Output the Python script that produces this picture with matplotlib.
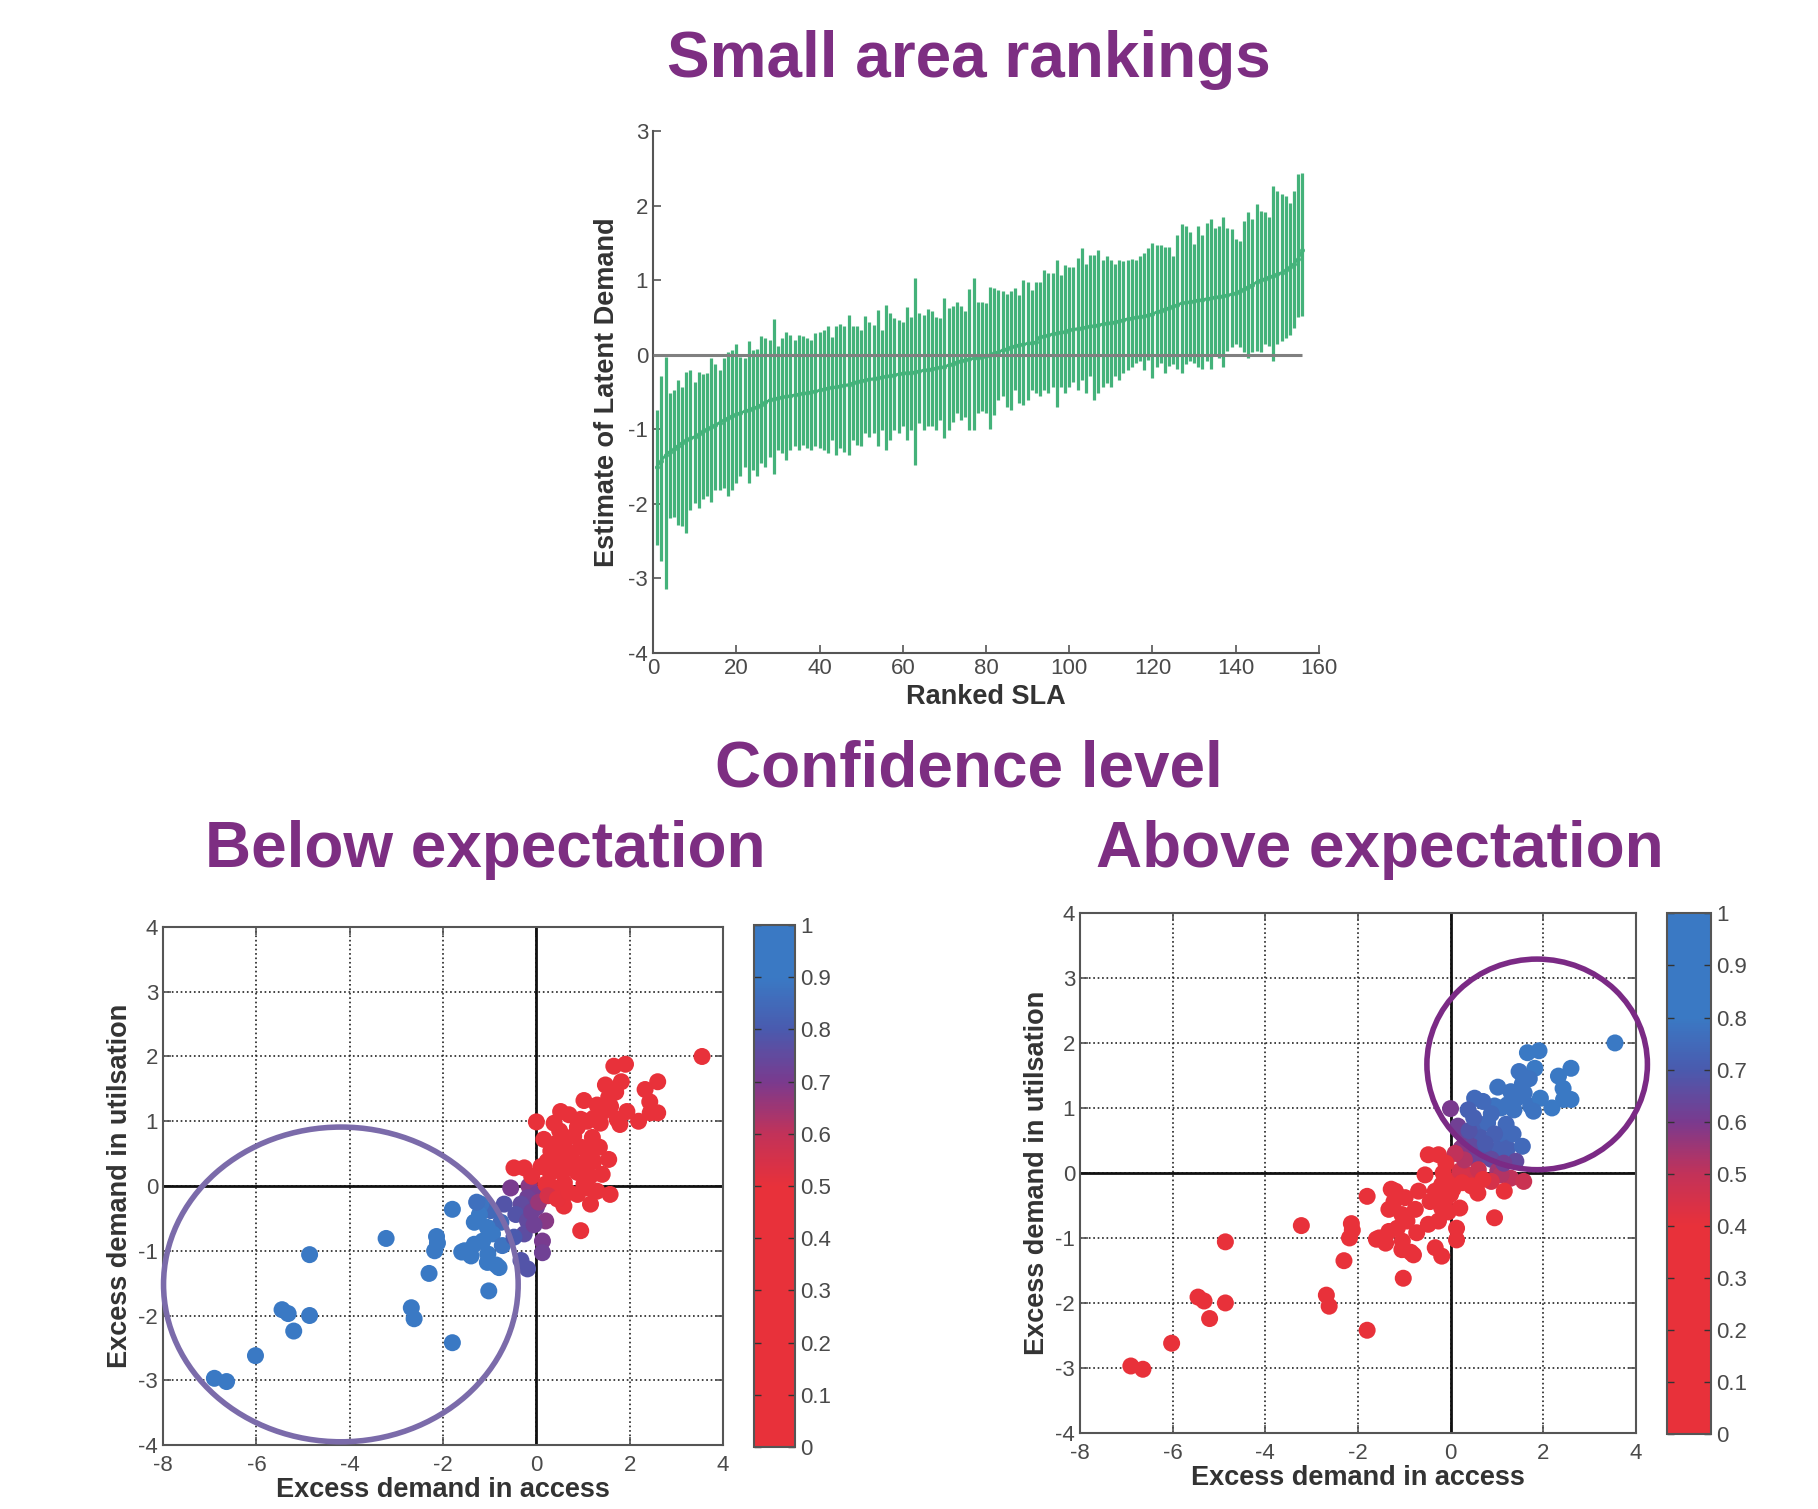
import numpy as np
import matplotlib
matplotlib.use("Agg")
import matplotlib.pyplot as plt
from matplotlib.colors import LinearSegmentedColormap
from matplotlib.patches import Ellipse

plt.rcParams['font.family'] = ['Liberation Sans', 'DejaVu Sans']
plt.rcParams['axes.unicode_minus'] = False

# ---- Small area rankings (156 ranked SLAs) ----
sla_est = [
    -1.50, -1.42, -1.35, -1.30, -1.27, -1.22, -1.18, -1.15, -1.12, -1.10,
    -1.07, -1.03, -1.00, -0.97, -0.94, -0.91, -0.88, -0.85, -0.82, -0.80,
    -0.78, -0.76, -0.74, -0.72, -0.70, -0.67, -0.64, -0.61, -0.59, -0.58,
    -0.57, -0.56, -0.55, -0.54, -0.53, -0.52, -0.51, -0.50, -0.49, -0.48,
    -0.46, -0.45, -0.44, -0.43, -0.42, -0.41, -0.40, -0.38, -0.36, -0.35,
    -0.34, -0.33, -0.32, -0.31, -0.30, -0.29, -0.28, -0.27, -0.26, -0.25,
    -0.24, -0.24, -0.23, -0.22, -0.21, -0.20, -0.19, -0.18, -0.17, -0.16,
    -0.14, -0.12, -0.10, -0.08, -0.07, -0.06, -0.05, -0.04, -0.03, -0.02,
    0.00, 0.02, 0.04, 0.06, 0.08, 0.10, 0.12, 0.13, 0.14, 0.15,
    0.16, 0.17, 0.24, 0.25, 0.26, 0.28, 0.29, 0.30, 0.31, 0.33,
    0.34, 0.35, 0.36, 0.37, 0.38, 0.39, 0.40, 0.41, 0.42, 0.43,
    0.44, 0.45, 0.47, 0.48, 0.49, 0.50, 0.51, 0.52, 0.53, 0.55,
    0.57, 0.59, 0.61, 0.63, 0.65, 0.67, 0.69, 0.70, 0.71, 0.72,
    0.73, 0.74, 0.75, 0.76, 0.77, 0.78, 0.79, 0.80, 0.81, 0.83,
    0.85, 0.88, 0.91, 0.94, 0.97, 1.00, 1.02, 1.04, 1.06, 1.08,
    1.10, 1.13, 1.17, 1.22, 1.28, 1.40]

sla_upper = [
    -0.74, -0.29, -0.03, -0.51, -0.47, -0.34, -0.43, -0.23, -0.21, -0.37,
    -0.23, -0.26, -0.25, -0.05, -0.12, -0.20, -0.05, 0.04, 0.06, 0.14,
    -0.03, -0.05, 0.19, 0.06, 0.08, 0.25, 0.22, 0.20, 0.48, 0.11,
    0.22, 0.31, 0.27, 0.20, 0.27, 0.25, 0.22, 0.20, 0.29, 0.31,
    0.33, 0.39, 0.24, 0.39, 0.41, 0.38, 0.53, 0.38, 0.38, 0.33,
    0.52, 0.44, 0.40, 0.60, 0.33, 0.67, 0.56, 0.49, 0.47, 0.44,
    0.64, 0.51, 1.03, 0.56, 0.53, 0.61, 0.58, 0.51, 0.49, 0.76,
    0.62, 0.65, 0.71, 0.65, 0.58, 0.88, 1.03, 0.70, 0.71, 0.69,
    0.91, 0.89, 0.87, 0.85, 0.82, 0.85, 0.89, 0.80, 1.00, 0.98,
    0.87, 0.98, 0.98, 1.13, 1.09, 1.09, 1.27, 1.07, 1.20, 1.18,
    1.18, 1.29, 1.43, 1.22, 1.34, 1.34, 1.41, 1.27, 1.32, 1.27,
    1.22, 1.27, 1.25, 1.27, 1.28, 1.27, 1.32, 1.36, 1.43, 1.50,
    1.47, 1.47, 1.45, 1.44, 1.32, 1.61, 1.75, 1.73, 1.64, 1.48,
    1.73, 1.61, 1.77, 1.82, 1.70, 1.73, 1.85, 1.70, 1.68, 1.55,
    1.53, 1.79, 1.91, 1.82, 2.02, 1.93, 1.91, 1.84, 2.26, 2.20,
    2.15, 2.13, 2.04, 2.20, 2.42, 2.44]

sla_lower = [
    -2.55, -2.77, -3.14, -2.19, -2.18, -2.28, -2.30, -2.39, -2.08, -1.99,
    -2.06, -1.93, -1.89, -1.98, -1.81, -1.81, -1.79, -1.90, -1.81, -1.72,
    -1.63, -1.50, -1.72, -1.54, -1.63, -1.45, -1.50, -1.37, -1.60, -1.28,
    -1.32, -1.41, -1.28, -1.23, -1.28, -1.21, -1.25, -1.28, -1.23, -1.25,
    -1.28, -1.32, -1.14, -1.34, -1.25, -1.30, -1.34, -1.14, -1.21, -1.23,
    -1.05, -1.10, -1.05, -1.23, -1.01, -1.28, -1.14, -1.01, -1.05, -0.96,
    -1.14, -1.01, -1.48, -0.92, -1.01, -0.96, -0.96, -1.01, -0.87, -1.12,
    -1.01, -0.90, -0.78, -0.87, -0.83, -1.01, -1.01, -0.78, -0.76, -0.78,
    -0.99, -0.81, -0.61, -0.56, -0.70, -0.74, -0.47, -0.65, -0.67, -0.61,
    -0.47, -0.52, -0.56, -0.47, -0.52, -0.43, -0.70, -0.43, -0.52, -0.43,
    -0.36, -0.47, -0.34, -0.52, -0.29, -0.61, -0.52, -0.43, -0.38, -0.43,
    -0.29, -0.34, -0.25, -0.20, -0.16, -0.11, -0.09, -0.20, -0.07, -0.31,
    -0.16, -0.11, -0.25, -0.15, -0.13, -0.19, -0.24, -0.13, -0.08, -0.11,
    -0.17, -0.19, -0.08, -0.19, -0.01, -0.04, -0.17, 0.05, 0.10, 0.14,
    0.10, 0.03, -0.04, 0.03, 0.05, 0.03, 0.14, 0.12, -0.08, 0.14,
    0.19, 0.23, 0.27, 0.36, 0.50, 0.52]

# ---- Excess demand per SLA, with confidence of being below / above expectation ----
access = [
    -6.90, -6.64, -6.02, -5.45, -5.32, -5.20, -4.86, -4.86, -3.22, -2.30,
    -2.18, -2.14, -2.68, -2.62, -1.80, -1.80, -1.02, -2.12, -0.76, -0.98,
    -1.19, -1.22, -1.33, -1.05, -0.94, -1.15, -1.33, -1.54, -1.40, -1.04,
    -0.73, -1.05, -0.80, -1.28, -1.60, -0.86, -0.16, 0.00, -0.19, 0.00,
    -0.33, -0.55, -0.69, -0.44, -0.19, 0.20, 0.13, 0.13, -0.19, -0.33,
    -0.26, -0.48, -0.10, -0.05, 0.05, 1.91, 1.66, 1.82, 1.48, 1.02,
    1.55, 1.59, 1.43, 1.23, 1.09, 0.95, 0.88, 1.37, 1.73, 1.94,
    1.79, 2.19, 2.33, 2.60, 2.43, 2.44, 2.60, 0.52, 0.38, 0.00,
    0.16, 0.59, 0.80, 0.66, 0.31, 0.45, 0.23, 1.09, 1.23, 1.55,
    1.02, 1.41, -0.26, -0.48, 0.73, 0.88, 0.52, 1.02, 1.30, 1.09,
    0.88, 1.58, 1.16, 0.95, 0.59, 0.38, 0.20, 3.55, 0.70, 1.20,
    0.40, 0.95, 1.35, 0.30, 0.60, 1.70, 1.30, 0.10, 0.75, 1.15,
    0.50, -0.10, 0.25, 0.45, 0.70]

utilisation = [
    -2.97, -3.02, -2.62, -1.91, -1.97, -2.24, -1.06, -2.00, -0.81, -1.35,
    -1.00, -0.78, -1.88, -2.05, -2.42, -0.36, -1.62, -0.88, -0.56, -0.38,
    -0.28, -0.44, -0.56, -0.64, -0.74, -0.85, -0.90, -1.00, -1.08, -1.05,
    -0.92, -1.18, -1.26, -0.25, -1.02, -1.22, 0.00, -0.13, -0.18, -0.33,
    -0.28, -0.03, -0.28, -0.44, -0.54, -0.54, -0.85, -1.03, -1.28, -1.15,
    -0.74, -0.79, -0.40, -0.60, -0.25, 1.88, 1.85, 1.61, 1.56, 1.32,
    1.37, 1.23, 1.15, 1.05, 1.00, 1.03, 0.91, 0.97, 1.03, 1.15,
    0.95, 1.00, 1.49, 1.61, 1.30, 1.13, 1.13, 1.15, 0.97, 0.99,
    0.72, 0.69, 0.77, 0.54, 0.54, 0.41, 0.38, 0.54, 0.38, 0.41,
    0.36, 0.18, 0.28, 0.28, 0.28, 0.21, 0.23, 0.03, -0.08, -0.03,
    -0.13, -0.13, -0.28, -0.69, -0.31, -0.03, 0.03, 2.00, 1.10, 0.75,
    0.65, 0.60, 0.60, 0.20, 0.05, 1.45, 1.25, 0.30, 0.45, 0.15,
    0.85, 0.15, -0.15, -0.20, -0.10]

conf_below = [
    0.97, 0.97, 0.97, 0.97, 0.97, 0.97, 0.95, 0.97, 0.93, 0.95,
    0.95, 0.93, 0.96, 0.96, 0.96, 0.90, 0.95, 0.94, 0.85, 0.85,
    0.88, 0.90, 0.90, 0.90, 0.90, 0.92, 0.92, 0.93, 0.93, 0.92,
    0.88, 0.93, 0.92, 0.87, 0.93, 0.92, 0.68, 0.70, 0.72, 0.72,
    0.75, 0.70, 0.78, 0.78, 0.75, 0.68, 0.70, 0.72, 0.78, 0.78,
    0.76, 0.80, 0.72, 0.72, 0.66, 0.10, 0.10, 0.12, 0.12, 0.15,
    0.12, 0.15, 0.15, 0.15, 0.15, 0.15, 0.18, 0.15, 0.15, 0.12,
    0.15, 0.12, 0.10, 0.10, 0.10, 0.12, 0.10, 0.18, 0.20, 0.25,
    0.25, 0.20, 0.18, 0.20, 0.25, 0.25, 0.28, 0.18, 0.20, 0.18,
    0.20, 0.22, 0.35, 0.35, 0.22, 0.22, 0.25, 0.28, 0.30, 0.30,
    0.32, 0.30, 0.35, 0.40, 0.45, 0.40, 0.45, 0.05, 0.18, 0.18,
    0.22, 0.20, 0.18, 0.30, 0.35, 0.12, 0.15, 0.32, 0.22, 0.25,
    0.20, 0.50, 0.55, 0.50, 0.40]

conf_above = [
    0.05, 0.05, 0.05, 0.05, 0.05, 0.05, 0.08, 0.05, 0.10, 0.06,
    0.07, 0.08, 0.05, 0.05, 0.05, 0.12, 0.06, 0.07, 0.15, 0.15,
    0.12, 0.12, 0.10, 0.10, 0.10, 0.08, 0.08, 0.08, 0.08, 0.08,
    0.10, 0.08, 0.08, 0.12, 0.08, 0.08, 0.30, 0.30, 0.28, 0.25,
    0.25, 0.28, 0.20, 0.20, 0.20, 0.25, 0.20, 0.18, 0.12, 0.12,
    0.18, 0.15, 0.25, 0.22, 0.30, 0.80, 0.80, 0.80, 0.78, 0.78,
    0.78, 0.78, 0.78, 0.78, 0.78, 0.78, 0.75, 0.78, 0.78, 0.80,
    0.78, 0.80, 0.80, 0.80, 0.80, 0.80, 0.80, 0.75, 0.72, 0.60,
    0.62, 0.72, 0.75, 0.70, 0.62, 0.65, 0.58, 0.75, 0.72, 0.75,
    0.72, 0.65, 0.35, 0.30, 0.68, 0.65, 0.62, 0.55, 0.50, 0.52,
    0.45, 0.48, 0.40, 0.30, 0.35, 0.45, 0.45, 0.82, 0.75, 0.75,
    0.68, 0.72, 0.75, 0.52, 0.48, 0.78, 0.78, 0.50, 0.70, 0.62,
    0.72, 0.30, 0.30, 0.32, 0.40]

purple = '#7D2E82'
green = '#44B27A'
tick_grey = '#4a4a4a'
label_grey = '#333333'

red, crimson, violet, indigo, blue = '#E8313A', '#C23259', '#7A3A8E', '#4A5AAE', '#3A79C4'
cmap_below = LinearSegmentedColormap.from_list(
    'below', [(0, red), (0.5, red), (0.6, crimson), (0.7, violet), (0.8, indigo), (0.9, blue), (1, blue)])
cmap_above = LinearSegmentedColormap.from_list(
    'above', [(0, red), (0.4, red), (0.5, crimson), (0.6, violet), (0.7, indigo), (0.8, blue), (1, blue)])

fig = plt.figure(figsize=(18.18, 15.09), dpi=100)

title_kw = dict(ha='center', va='center', fontsize=46, fontweight='bold', color=purple)
fig.text(0.533, 0.960, 'Small area rankings', **title_kw)
fig.text(0.533, 0.490, 'Confidence level', **title_kw)
fig.text(0.267, 0.437, 'Below expectation', **title_kw)
fig.text(0.759, 0.437, 'Above expectation', **title_kw)

# top panel
ranks = np.arange(1, len(sla_est) + 1)
ax = fig.add_axes([0.3592, 0.5673, 0.3663, 0.3459])
ax.vlines(ranks, sla_lower, sla_upper, color=green, lw=2.3)
ax.plot(ranks, sla_est, color=green, lw=1.8, marker='.', ms=5)
ax.hlines(0, 0, ranks[-1], color='#808080', lw=2.2, zorder=3)
ax.set_xlim(0, 160)
ax.set_ylim(-4, 3)
ax.set_xticks(np.arange(0, 161, 20))
ax.set_yticks(np.arange(-4, 4, 1))
for s in ['top', 'right']:
    ax.spines[s].set_visible(False)
for s in ['left', 'bottom']:
    ax.spines[s].set_color('#555555')
    ax.spines[s].set_linewidth(1.5)
ax.tick_params(direction='in', length=6, width=1.2, color='#555555',
               labelsize=16, labelcolor=tick_grey)
ax.set_xlabel('Ranked SLA', fontsize=19.5, fontweight='bold', color=label_grey, labelpad=4)
ax.set_ylabel('Estimate of Latent Demand', fontsize=19.5, fontweight='bold', color=label_grey, labelpad=6)


def scatter_panel(rect, cbar_rect, cvals, cmap, circle, circle_color):
    ax = fig.add_axes(rect)
    ax.grid(True, color='#222222', linestyle=':', lw=1.2)
    ax.axhline(0, color='#111111', lw=2)
    ax.axvline(0, color='#111111', lw=2)
    sc = ax.scatter(access, utilisation, c=cvals, cmap=cmap, vmin=0, vmax=1,
                    s=150, edgecolors='none', zorder=3)
    ax.add_patch(Ellipse(circle[0], circle[1], circle[2], fill=False,
                         ec=circle_color, lw=4, clip_on=False, zorder=4))
    ax.set_xlim(-8, 4)
    ax.set_ylim(-4, 4)
    ax.set_xticks(np.arange(-8, 5, 2))
    ax.set_yticks(np.arange(-4, 5, 1))
    for s in ax.spines.values():
        s.set_color('#555555')
        s.set_linewidth(1.5)
    ax.tick_params(direction='in', length=6, width=1.2, color='#555555',
                   labelsize=16, labelcolor=tick_grey, top=True, right=True)
    ax.tick_params(axis='x', pad=7)
    ax.set_xlabel('Excess demand in access', fontsize=19.5, fontweight='bold',
                  color=label_grey, labelpad=1)
    ax.set_ylabel('Excess demand in utilsation', fontsize=19.5, fontweight='bold',
                  color=label_grey, labelpad=4)
    cax = fig.add_axes(cbar_rect)
    cb = fig.colorbar(sc, cax=cax)
    cb.set_ticks(np.linspace(0, 1, 11))
    cb.set_ticklabels(['0', '0.1', '0.2', '0.3', '0.4', '0.5', '0.6', '0.7', '0.8', '0.9', '1'])
    cb.outline.set_edgecolor('#555555')
    cb.outline.set_linewidth(1.5)
    cax.tick_params(direction='in', length=5, width=1, color='#333333',
                    labelsize=16, labelcolor=tick_grey, left=True)


scatter_panel([0.0897, 0.0424, 0.308, 0.3433], [0.4147, 0.0411, 0.0226, 0.3459],
              conf_below, cmap_below, ((-4.19, -1.52), 7.6, 4.86), '#7B6BAA')
scatter_panel([0.594, 0.0504, 0.3058, 0.3446], [0.917, 0.0497, 0.0242, 0.345],
              conf_above, cmap_above, ((1.87, 1.67), 4.76, 3.24), '#7B2A85')

fig.savefig('out.png', dpi=100)
